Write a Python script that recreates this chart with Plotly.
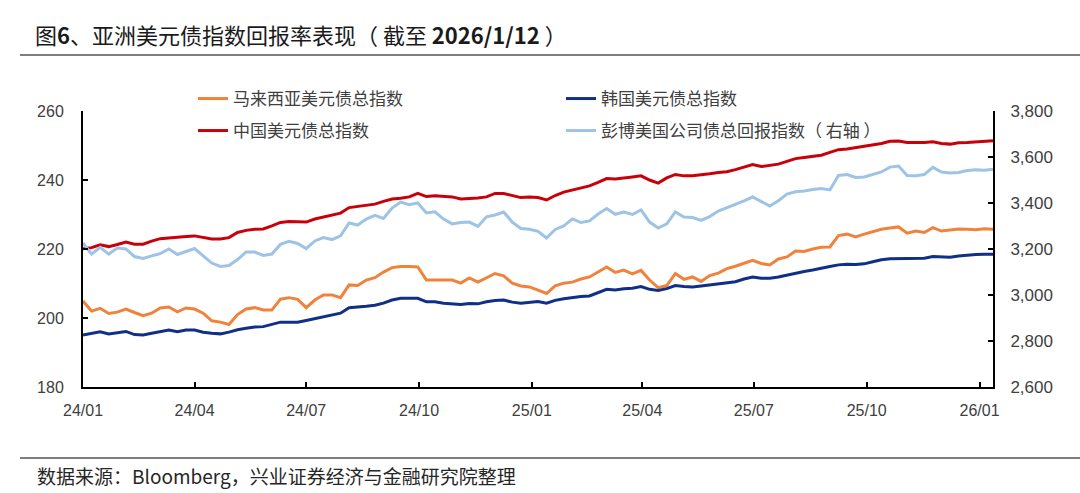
import pandas as pd
import plotly.graph_objects as go

# Weekly observation dates (2024/01/01 .. 2026/01/12)
dates = pd.date_range("2024-01-01", "2026-01-12", freq="7D")

malaysia = [
    204.9, 202.0, 202.8, 201.3, 201.7, 202.6, 201.6, 200.7, 201.4, 202.9,
    203.2, 201.8, 202.9, 202.6, 201.4, 199.2, 198.8, 198.1, 201.0, 202.6,
    203.0, 202.3, 202.3, 205.5, 205.9, 205.4, 203.0, 205.2, 206.7, 206.7,
    205.9, 209.6, 209.4, 211.0, 211.7, 213.3, 214.6, 214.9, 214.9, 214.8,
    211.0, 211.0, 211.0, 211.0, 210.1, 211.6, 210.4, 211.6, 212.9, 212.2,
    210.1, 209.3, 209.0, 208.1, 207.1, 209.3, 210.1, 210.4, 211.3, 211.9,
    213.4, 214.8, 213.2, 213.9, 212.8, 213.8, 211.0, 208.8, 209.4, 212.9,
    211.2, 211.9, 210.6, 212.3, 213.0, 214.3, 215.0, 215.9, 216.7, 215.8,
    215.4, 217.1, 217.7, 219.4, 219.3, 220.0, 220.5, 220.6, 223.9, 224.3,
    223.5, 224.3, 225.1, 225.7, 226.1, 226.4, 224.6, 225.2, 224.8, 226.2,
    225.2, 225.4, 225.8, 225.7, 225.6, 225.9, 225.7,
]

korea = [
    195.1, 195.5, 196.0, 195.4, 195.8, 196.1, 195.2, 195.1, 195.6, 196.1,
    196.5, 196.0, 196.5, 196.5, 195.9, 195.6, 195.4, 195.9, 196.6, 197.0,
    197.4, 197.5, 198.1, 198.8, 198.8, 198.8, 199.3, 199.8, 200.3, 200.7,
    201.4, 203.0, 203.1, 203.4, 203.7, 204.3, 205.2, 205.7, 205.7, 205.7,
    204.7, 204.7, 204.3, 204.0, 203.9, 204.2, 204.1, 204.7, 205.1, 205.2,
    204.6, 204.3, 204.6, 204.8, 204.3, 205.1, 205.6, 206.0, 206.2, 206.4,
    207.4, 208.3, 208.1, 208.5, 208.6, 209.1, 208.3, 208.0, 208.5, 209.4,
    209.1, 209.0, 209.3, 209.6, 209.9, 210.2, 210.5, 211.3, 211.9, 211.5,
    211.5, 211.9, 212.5, 213.1, 213.5, 213.9, 214.3, 214.9, 215.4, 215.6,
    215.5, 215.7, 216.3, 216.9, 217.2, 217.2, 217.1, 217.1, 217.3, 217.8,
    217.7, 217.6, 218.0, 218.3, 218.4, 218.5, 218.5,
]

china = [
    220.1, 220.4, 221.2, 220.7, 221.3, 222.0, 221.4, 221.4, 222.3, 223.0,
    223.2, 223.3, 223.6, 223.8, 223.3, 222.9, 222.9, 223.3, 224.8, 225.4,
    225.7, 225.8, 226.7, 227.7, 228.0, 227.8, 227.8, 228.7, 229.3, 229.7,
    230.4, 232.0, 232.3, 232.7, 233.0, 233.8, 234.5, 234.7, 235.1, 236.1,
    235.2, 235.4, 235.2, 235.1, 234.5, 234.6, 234.8, 235.1, 236.1, 236.1,
    235.4, 234.9, 235.1, 234.9, 234.2, 235.5, 236.5, 237.1, 237.5, 238.3,
    239.3, 240.4, 240.3, 240.7, 240.9, 241.2, 240.0, 239.1, 240.6, 241.6,
    241.2, 241.2, 241.4, 241.8, 242.2, 242.4, 243.0, 243.8, 244.5, 243.9,
    244.2, 244.6, 245.4, 246.2, 246.5, 246.9, 247.2, 248.0, 248.8, 249.0,
    249.4, 249.7, 250.0, 250.6, 251.2, 251.3, 250.9, 250.8, 250.9, 251.1,
    250.6, 250.4, 250.8, 250.9, 251.1, 251.2, 251.4,
]

us_corp = [
    3226, 3178, 3207, 3178, 3204, 3200, 3167, 3159, 3170, 3180,
    3200, 3176, 3189, 3202, 3170, 3139, 3124, 3128, 3154, 3187,
    3187, 3172, 3178, 3220, 3233, 3224, 3202, 3235, 3250, 3241,
    3257, 3313, 3304, 3330, 3346, 3333, 3378, 3404, 3393, 3400,
    3357, 3362, 3330, 3309, 3315, 3317, 3298, 3340, 3348, 3361,
    3317, 3289, 3286, 3277, 3248, 3285, 3300, 3331, 3315, 3322,
    3352, 3376, 3351, 3361, 3350, 3370, 3317, 3291, 3309, 3361,
    3339, 3337, 3324, 3341, 3365, 3379, 3394, 3409, 3426, 3406,
    3387, 3410, 3439, 3449, 3452, 3459, 3463, 3457, 3520, 3524,
    3511, 3513, 3524, 3535, 3556, 3561, 3520, 3519, 3524, 3555,
    3535, 3530, 3533, 3541, 3545, 3542, 3547,
]

tick_dates = ["2024-01-01", "2024-04-01", "2024-07-01", "2024-10-01", "2025-01-01",
              "2025-04-01", "2025-07-01", "2025-10-01", "2026-01-01"]
tick_labels = ["24/01", "24/04", "24/07", "24/10", "25/01", "25/04", "25/07", "25/10", "26/01"]

names = ["马来西亚美元债总指数", "韩国美元债总指数", "中国美元债总指数", "彭博美国公司债总回报指数（ 右轴 ）"]
colors = ["#F0823C", "#102F86", "#C8000A", "#9DC3E6"]

CJK = "Noto Sans CJK SC"
NUM = "Liberation Sans, Arial, Noto Sans CJK SC"
TXT = "#404040"

fig = go.Figure()
fig.add_trace(go.Scatter(x=dates, y=malaysia, name=names[0], mode="lines",
                         line=dict(color=colors[0], width=3), legend="legend"))
fig.add_trace(go.Scatter(x=dates, y=korea, name=names[1], mode="lines",
                         line=dict(color=colors[1], width=3), legend="legend"))
fig.add_trace(go.Scatter(x=dates, y=china, name=names[2], mode="lines",
                         line=dict(color=colors[2], width=3), legend="legend2"))
fig.add_trace(go.Scatter(x=dates, y=us_corp, name=names[3], mode="lines", yaxis="y2",
                         line=dict(color=colors[3], width=3), legend="legend2"))

L, R, T, B = 83, 87, 111, 106
W, H = 1080, 493
pw, ph = W - L - R, H - T - B

def px(xp):
    return (xp - L) / pw

def py(yp):
    return (H - B - yp) / ph

legend_common = dict(orientation="h", xanchor="left", yanchor="middle",
                     entrywidth=323, entrywidthmode="pixels",
                     font=dict(family=CJK, size=17, color=TXT),
                     bgcolor="rgba(0,0,0,0)", traceorder="normal")

fig.update_layout(
    width=W, height=H,
    margin=dict(l=L, r=R, t=T, b=B),
    paper_bgcolor="white", plot_bgcolor="white",
    showlegend=True,
    title=dict(text="图<b>6</b>、亚洲美元债指数回报率表现（ 截至 <b>2026/1/12</b> ）",
               x=35 / W, xref="container", xanchor="left",
               y=1 - 36 / H, yref="container", yanchor="middle",
               font=dict(family=CJK, size=22, color="#1a1a1a")),
    legend=dict(x=px(193), y=py(99), **legend_common),
    legend2=dict(x=px(193), y=py(131), **legend_common),
    xaxis=dict(type="date", range=["2024-01-01", "2026-01-12"],
               tickvals=tick_dates, ticktext=tick_labels,
               ticks="inside", ticklen=5, tickwidth=1.5, tickcolor="black",
               showline=True, linecolor="black", linewidth=2,
               showgrid=False, zeroline=False,
               ticklabelstandoff=8,
               tickfont=dict(family=NUM, size=16, color=TXT)),
    yaxis=dict(range=[180, 260], tickvals=[180, 200, 220, 240, 260],
               ticks="inside", ticklen=5, tickwidth=1.5, tickcolor="black",
               showline=True, linecolor="black", linewidth=2,
               showgrid=False, zeroline=False,
               ticklabelstandoff=14,
               tickfont=dict(family=NUM, size=16, color=TXT)),
    yaxis2=dict(range=[2600, 3800], tickvals=[2600, 2800, 3000, 3200, 3400, 3600, 3800],
                tickformat=",.0f", overlaying="y", side="right",
                ticks="inside", ticklen=5, tickwidth=1.5, tickcolor="black",
                showline=True, linecolor="black", linewidth=2,
                showgrid=False, zeroline=False,
                ticklabelstandoff=12,
                tickfont=dict(family=NUM, size=17, color=TXT)),
    shapes=[
        dict(type="line", xref="paper", yref="paper", x0=px(20), x1=px(1080),
             y0=py(55), y1=py(55), line=dict(color="#555555", width=1.5)),
        dict(type="line", xref="paper", yref="paper", x0=px(20), x1=px(1080),
             y0=py(458), y1=py(458), line=dict(color="#555555", width=1.5)),
    ],
    annotations=[
        dict(text="数据来源：Bloomberg，兴业证券经济与金融研究院整理",
             xref="paper", yref="paper", x=px(35), y=py(476),
             xanchor="left", yanchor="middle", showarrow=False,
             font=dict(family=CJK, size=19, color="#262626")),
    ],
)

fig.write_html("out.html", config={"displayModeBar": False},
               post_script="document.body.style.margin='0px';")
